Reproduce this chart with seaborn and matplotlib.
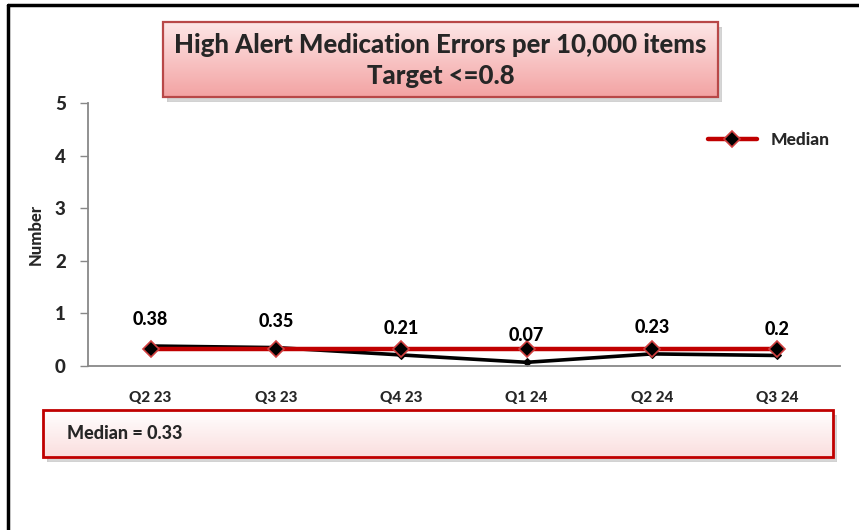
import numpy as np
import pandas as pd
import matplotlib
matplotlib.use("Agg")
import matplotlib.pyplot as plt
import seaborn as sns
from matplotlib.patches import Rectangle
from matplotlib.lines import Line2D

quarters = ["Q2 23", "Q3 23", "Q4 23", "Q1 24", "Q2 24", "Q3 24"]
rates = [0.38, 0.35, 0.21, 0.07, 0.23, 0.2]
median_vals = [0.33, 0.33, 0.33, 0.33, 0.33, 0.33]
title_lines = ["High Alert Medication Errors per 10,000 items", "Target <=0.8"]
median_text = "Median = 0.33"
y_ticks = [0, 1, 2, 3, 4, 5]

sns.set_theme(style="white")
plt.rcParams['font.family'] = ['Lato', 'DejaVu Sans']
W8 = 900
plt.rcParams['font.weight'] = W8

W, H = 859, 530
fig = plt.figure(figsize=(W / 100, H / 100), dpi=100)
fig.patch.set_facecolor("white")

def fx(px):
    return px / W

def fy(py):
    return 1 - py / H

# outer border (left & top)
fig.add_artist(Line2D([fx(7.5), fx(7.5)], [fy(530), fy(4.5)], color="black", lw=2.5, transform=fig.transFigure))
fig.add_artist(Line2D([fx(7.5), fx(859)], [fy(4.5), fy(4.5)], color="black", lw=2.5, transform=fig.transFigure))

# main axes
x0, x1, ytop, ybot = 88, 840, 103, 366
ax = fig.add_axes([fx(x0), fy(ybot), fx(x1 - x0), (ybot - ytop) / H])
df = pd.DataFrame({"Quarter": quarters, "Rate": rates, "Median": median_vals})
df["pos"] = np.arange(len(df))

sns.lineplot(data=df, x="pos", y="Rate", ax=ax, color="black", lw=2.6,
             marker="D", markersize=4, markeredgecolor="black", legend=False)
sns.lineplot(data=df, x="pos", y="Median", ax=ax, color="#c00000", lw=3.2,
             marker="D", markersize=8, markerfacecolor="black",
             markeredgecolor="#d04040", markeredgewidth=1.2, label="Median")

for i, v in enumerate(rates):
    ax.annotate(f"{v:g}", (i, v), xytext=(0, 19), textcoords="offset points",
                ha="center", va="center", fontsize=13, fontweight=W8, color="black")

ax.set_xlim(-0.5, len(quarters) - 0.5)
ax.set_ylim(0, 5)
ax.set_yticks(y_ticks)
ax.set_yticklabels([str(t) for t in y_ticks], fontsize=13.5, fontweight=W8)
ax.set_xticks(range(len(quarters)))
ax.set_xticklabels(quarters, fontsize=11, fontweight=W8)
ax.tick_params(axis="y", length=6, width=1, color="#888888", pad=10, left=True)
ax.tick_params(axis="x", length=0, pad=18)
ax.set_xlabel("")
ax.set_ylabel("Number", fontsize=12, fontweight=W8, labelpad=8)
for s in ["top", "right"]:
    ax.spines[s].set_visible(False)
for s in ["left", "bottom"]:
    ax.spines[s].set_color("#888888")
    ax.spines[s].set_linewidth(1.3)
ax.set_facecolor("none")
leg = ax.legend(loc="upper right", bbox_to_anchor=(1.0, 0.93), frameon=False,
                fontsize=12.5, handlelength=2.8, borderaxespad=0.2)
for t in leg.get_texts():
    t.set_fontweight(W8)

def box(px0, py0, px1, py1, top_col, bot_col, edge, lw):
    sh = fig.add_axes([fx(px0 + 4), fy(py1 + 5), fx(px1 - px0), (py1 - py0) / H], zorder=1)
    sh.set_axis_off()
    sh.add_patch(Rectangle((0, 0), 1, 1, color="#bbbbbb", alpha=0.6, transform=sh.transAxes))
    b = fig.add_axes([fx(px0), fy(py1), fx(px1 - px0), (py1 - py0) / H], zorder=2)
    b.set_axis_off()
    grad = np.linspace(0, 1, 64).reshape(-1, 1)
    c0 = np.array(matplotlib.colors.to_rgb(top_col))
    c1 = np.array(matplotlib.colors.to_rgb(bot_col))
    img = c0[None, None, :] * (1 - grad[:, :, None]) + c1[None, None, :] * grad[:, :, None]
    b.imshow(img, aspect="auto", extent=(0, 1, 0, 1), origin="upper")
    b.set_xlim(0, 1)
    b.set_ylim(0, 1)
    b.add_patch(Rectangle((0, 0), 1, 1, fill=False, edgecolor=edge, lw=lw, transform=b.transAxes, clip_on=False))
    return b

tb = box(163, 22, 718, 97, "#fde6e6", "#f3a3a3", "#b84848", 1.6)
tb.text(0.5, 0.69, title_lines[0], ha="center", va="center", fontsize=18.5, fontweight=W8, transform=tb.transAxes)
tb.text(0.5, 0.28, title_lines[1], ha="center", va="center", fontsize=18.5, fontweight=W8, transform=tb.transAxes)

mb = box(43, 410, 833, 457, "#ffffff", "#fbdede", "#c00000", 2.0)
mb.text(0.03, 0.5, median_text, ha="left", va="center", fontsize=13, fontweight=W8, transform=mb.transAxes)

fig.savefig("out.png", dpi=100, facecolor="white")
